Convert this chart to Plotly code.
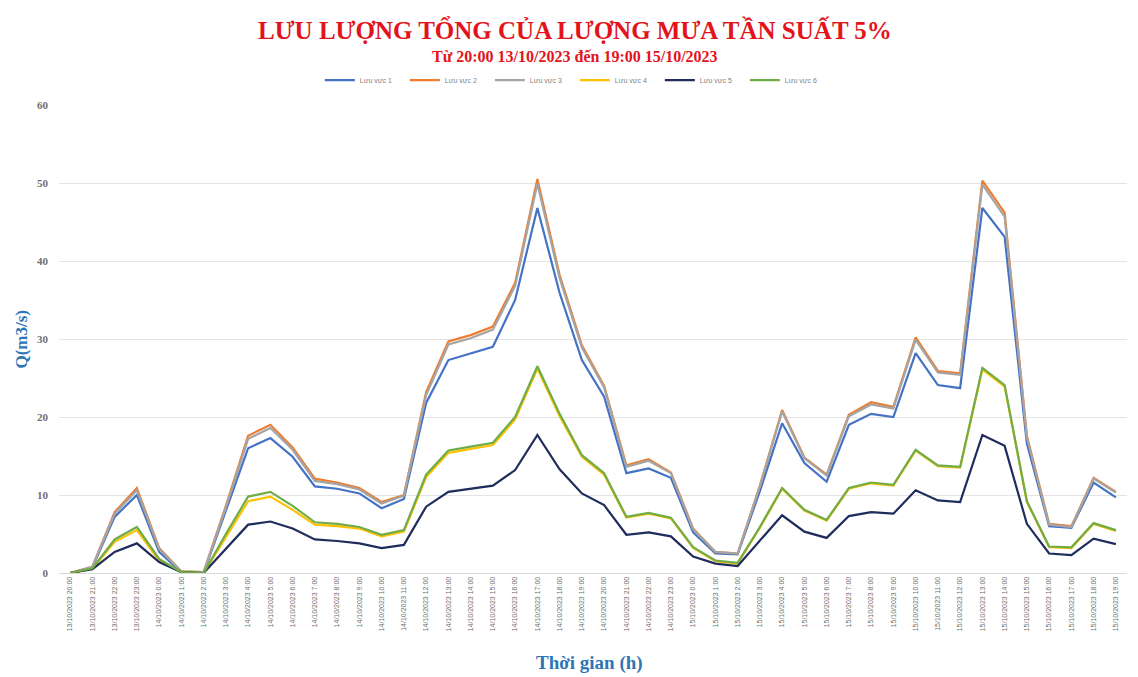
import pandas as pd
import plotly.graph_objects as go

# Hourly time axis: 13/10/2023 20:00 -> 15/10/2023 19:00
times = pd.date_range("2023-10-13 20:00", "2023-10-15 19:00", freq="h")
time_labels = [f"{t.day}/{t.month}/{t.year} {t.hour}:00" for t in times]

# Total discharge per sub-basin, Q (m3/s)
luu_vuc_1 = [0, 0.7, 7.2, 10.0, 2.7, 0.1, 0, 8.0, 16.0, 17.3, 14.9, 11.1, 10.8, 10.2, 8.3, 9.5,
             21.8, 27.3, 28.2, 29.0, 35.0, 46.8, 35.9, 27.3, 22.6, 12.8, 13.4, 12.2, 5.2, 2.5, 2.4, 10.5,
             19.2, 14.1, 11.7, 19.0, 20.4, 20.0, 28.2, 24.1, 23.7, 46.8, 43.1, 16.6, 6.0, 5.8, 11.6, 9.7]
luu_vuc_2 = [0, 0.8, 7.8, 10.9, 3.2, 0.2, 0.1, 8.6, 17.6, 19.0, 16.1, 12.1, 11.6, 10.9, 9.1, 10.0,
             23.2, 29.7, 30.5, 31.6, 37.2, 50.5, 38.2, 29.2, 24.0, 13.8, 14.6, 12.9, 5.7, 2.7, 2.5, 11.2,
             20.9, 14.8, 12.6, 20.3, 21.9, 21.3, 30.2, 25.9, 25.6, 50.3, 46.2, 17.6, 6.3, 6.0, 12.2, 10.4]
luu_vuc_3 = [0, 0.8, 7.6, 10.6, 3.1, 0.2, 0.1, 8.4, 17.2, 18.6, 15.8, 11.8, 11.4, 10.7, 8.9, 9.9,
             22.8, 29.3, 30.1, 31.2, 36.8, 49.9, 37.8, 28.9, 23.8, 13.6, 14.4, 12.8, 5.6, 2.7, 2.5, 11.1,
             20.7, 14.7, 12.5, 20.1, 21.6, 21.1, 29.9, 25.7, 25.4, 49.8, 45.7, 17.4, 6.2, 5.9, 12.1, 10.3]
luu_vuc_4 = [0, 0.5, 4.0, 5.5, 1.6, 0.1, 0, 4.6, 9.2, 9.8, 8.1, 6.2, 6.0, 5.7, 4.7, 5.3,
             12.3, 15.4, 15.9, 16.4, 19.7, 26.2, 20.1, 14.9, 12.6, 7.1, 7.6, 7.0, 3.2, 1.5, 1.2, 5.8,
             10.8, 8.0, 6.7, 10.8, 11.5, 11.2, 15.7, 13.7, 13.5, 26.1, 23.9, 9.1, 3.3, 3.2, 6.3, 5.4]
luu_vuc_5 = [0, 0.5, 2.7, 3.8, 1.4, 0.1, 0, 3.1, 6.2, 6.6, 5.7, 4.3, 4.1, 3.8, 3.2, 3.6,
             8.5, 10.4, 10.8, 11.2, 13.2, 17.7, 13.3, 10.2, 8.7, 4.9, 5.2, 4.7, 2.1, 1.2, 0.9, 4.1,
             7.4, 5.3, 4.5, 7.3, 7.8, 7.6, 10.6, 9.3, 9.1, 17.7, 16.3, 6.3, 2.5, 2.3, 4.4, 3.7]
luu_vuc_6 = [0, 0.6, 4.3, 5.9, 1.8, 0.1, 0, 5.0, 9.8, 10.4, 8.6, 6.5, 6.3, 5.9, 4.9, 5.5,
             12.6, 15.7, 16.2, 16.7, 20.0, 26.5, 20.4, 15.1, 12.8, 7.2, 7.7, 7.1, 3.3, 1.6, 1.3, 5.9,
             10.9, 8.1, 6.8, 10.9, 11.6, 11.3, 15.8, 13.8, 13.6, 26.3, 24.1, 9.2, 3.4, 3.3, 6.4, 5.5]

series_names = ["Lưu vực 1", "Lưu vực 2", "Lưu vực 3", "Lưu vực 4", "Lưu vực 5", "Lưu vực 6"]
series_values = [luu_vuc_1, luu_vuc_2, luu_vuc_3, luu_vuc_4, luu_vuc_5, luu_vuc_6]
series_colors = ["#4472C4", "#ED7D31", "#A5A5A5", "#FFC000", "#1F2C5C", "#70AD47"]

y_ticks = [0, 10, 20, 30, 40, 50, 60]

fig = go.Figure()
for name, vals, color in zip(series_names, series_values, series_colors):
    fig.add_trace(go.Scatter(
        x=time_labels, y=vals, name=name, mode="lines",
        line=dict(color=color, width=2.2),
    ))

serif = "Liberation Serif"
red = "#E3131B"
blue = "#2E75B6"

fig.update_layout(
    width=1138, height=677,
    margin=dict(l=59, r=11, t=105, b=104),
    paper_bgcolor="white", plot_bgcolor="white",
    showlegend=True,
    legend=dict(
        orientation="h", x=0.483, xanchor="center", y=1.053, yanchor="middle",
        font=dict(family="Liberation Sans", size=7, color="#7F7F7F"),
        itemwidth=30, entrywidth=40, tracegroupgap=0,
    ),
    annotations=[
        dict(text="<b>LƯU LƯỢNG TỔNG CỦA LƯỢNG MƯA TẦN SUẤT 5%</b>",
             xref="paper", yref="paper", x=0.483, y=1.161, xanchor="center", yanchor="middle",
             showarrow=False, font=dict(family=serif, size=25, color=red)),
        dict(text="<b>Từ 20:00 13/10/2023 đến 19:00 15/10/2023</b>",
             xref="paper", yref="paper", x=0.483, y=1.104, xanchor="center", yanchor="middle",
             showarrow=False, font=dict(family=serif, size=16, color=red)),
        dict(text="<b>Thời gian (h)</b>",
             xref="paper", yref="paper", x=0.497, y=-0.192, xanchor="center", yanchor="middle",
             showarrow=False, font=dict(family=serif, size=19, color=blue)),
        dict(text="<b>Q(m3/s)</b>", textangle=-90,
             xref="paper", yref="paper", x=-0.036, y=0.5, xanchor="center", yanchor="middle",
             showarrow=False, font=dict(family=serif, size=17, color=blue)),
    ],
)

fig.update_xaxes(
    type="category", range=[-0.5, len(time_labels) - 0.5],
    tickangle=-90, tickfont=dict(family="Liberation Sans", size=7, color="#6F6F6F"),
    showgrid=False, showline=True, linecolor="#D9D9D9", linewidth=1,
    ticks="", zeroline=False, fixedrange=True,
)
fig.update_yaxes(
    range=[0, 60], tickvals=y_ticks,
    ticktext=[f"<b>{v}</b>" for v in y_ticks],
    tickfont=dict(family=serif, size=11, color="#6F6F6F"),
    showgrid=True, gridcolor="#E4E4E4", gridwidth=1,
    showline=False, zeroline=False, ticklabelstandoff=10,
)

fig.write_html("out.html")
